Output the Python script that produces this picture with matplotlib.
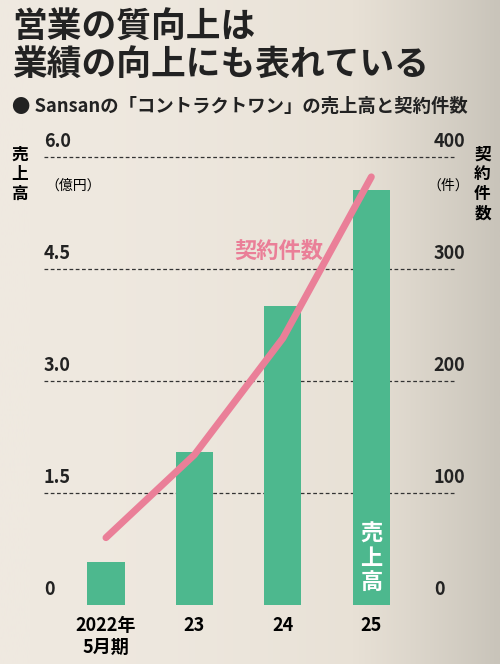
import matplotlib.pyplot as plt
import numpy as np
from matplotlib.colors import LinearSegmentedColormap

plt.rcParams['font.family'] = ['Noto Sans CJK JP', 'DejaVu Sans']

periods = ['2022年\n5月期', '23', '24', '25']
sales = [0.58, 2.05, 4.0, 5.55]          # 億円
contracts = [60, 134, 238, 382]          # 件
left_ticks = [0, 1.5, 3.0, 4.5, 6.0]
left_labels = ['0', '1.5', '3.0', '4.5', '6.0']
right_ticks = [0, 100, 200, 300, 400]

fig = plt.figure(figsize=(5, 6.64), dpi=100)
fig.patch.set_facecolor('#ece6dc')

# 背景の淡いグラデーション（写真の代わり）
bg = fig.add_axes([0, 0, 1, 1], zorder=-5)
cmap = LinearSegmentedColormap.from_list('bg', ['#efe9e0', '#e8e1d6', '#c9c4ba'])
grad = np.linspace(0, 1, 256)[None, :] ** 2
bg.imshow(grad, aspect='auto', cmap=cmap, extent=[0, 1, 0, 1])
bg.axis('off')

ax = fig.add_axes([0.15, 0.089, 0.69, 0.675])
ax.patch.set_alpha(0)
x = np.arange(len(periods))
ax.bar(x, sales, width=0.42, color='#4db88e', zorder=3)
ax.set_ylim(0, 6.0)
ax.set_xlim(-0.35, 3.55)
for t in left_ticks[1:]:
    ax.plot([-0.09, 1.1], [t, t], transform=ax.get_yaxis_transform(), clip_on=False,
            color='#333333', ls=(0, (3, 2)), lw=0.9, zorder=1)
for s in ax.spines.values():
    s.set_visible(False)
ax.set_yticks([])
for t, lab in zip(left_ticks, left_labels):
    ax.text(-0.09, t + 0.08, lab, transform=ax.get_yaxis_transform(), fontsize=13,
            fontweight='bold', ha='left', va='bottom', color='#222222')
ax.set_xticks(x)
ax.set_xticklabels(periods, fontsize=13, fontweight='bold', linespacing=1.2)
ax.tick_params(axis='x', length=0, pad=8)

ax2 = ax.twinx()
ax2.set_ylim(0, 400)
ax2.plot(x, contracts, color='#ea7f98', lw=5, solid_capstyle='round', zorder=4)
for s in ax2.spines.values():
    s.set_visible(False)
ax2.set_yticks([])
for t in right_ticks:
    ax2.text(1.04, t + 5, str(t), transform=ax2.get_yaxis_transform(), fontsize=13,
             fontweight='bold', ha='left', va='bottom', color='#222222')

fig.text(0.025, 0.985, '営業の質向上は\n業績の向上にも表れている', fontsize=25, fontweight='bold',
         va='top', linespacing=1.1, color='#222222')
fig.text(0.025, 0.84, '● Sansanの「コントラクトワン」の売上高と契約件数', fontsize=13.2,
         fontweight='bold', va='center', color='#222222')
fig.text(0.04, 0.78, '売\n上\n高', fontsize=12, fontweight='bold', va='top', ha='center', linespacing=1.1)
fig.text(0.965, 0.78, '契\n約\n件\n数', fontsize=12, fontweight='bold', va='top', ha='center', linespacing=1.1)
fig.text(0.09, 0.72, '（億円）', fontsize=10, va='center')
fig.text(0.855, 0.72, '（件）', fontsize=10, va='center')
ax2.text(1.45, 310, '契約件数', fontsize=16, fontweight='bold', color='#ea7f98')
ax.text(3.0, 0.15, '売\n上\n高', fontsize=16, fontweight='bold', color='white',
        ha='center', va='bottom', linespacing=1.05, zorder=5)

fig.savefig('out.png', dpi=100, facecolor=fig.get_facecolor())
